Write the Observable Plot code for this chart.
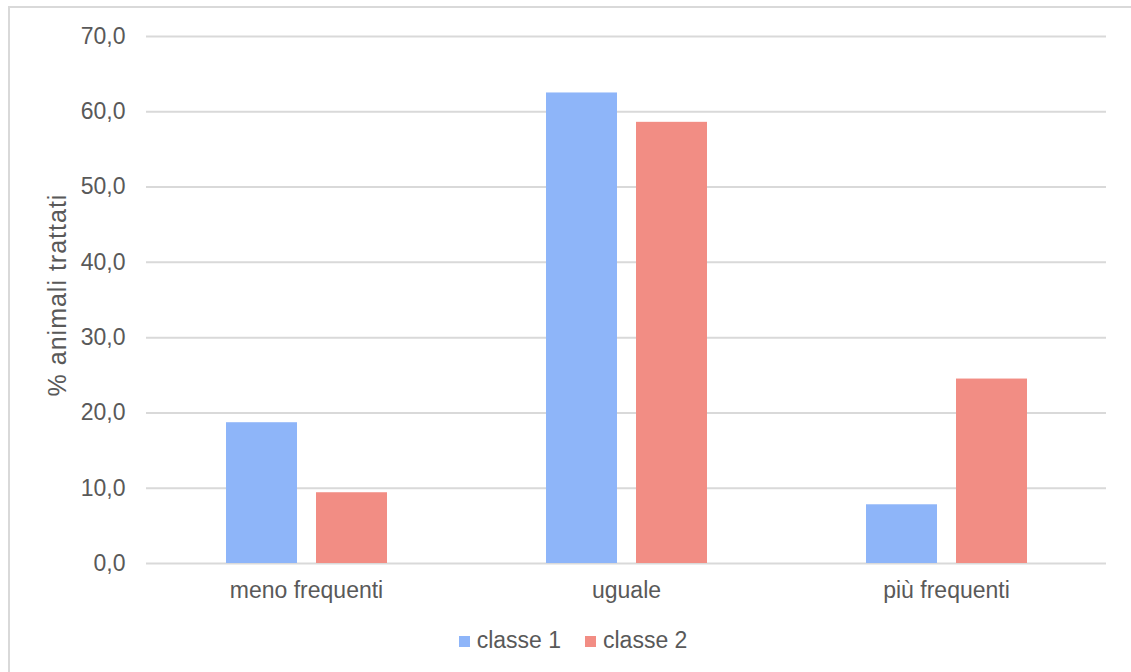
<!DOCTYPE html>
<html>
<head>
<meta charset="utf-8">
<script src="https://cdn.jsdelivr.net/npm/d3@7"></script>
<script src="https://cdn.jsdelivr.net/npm/@observablehq/plot@0.6"></script>
<style>
  html, body { margin: 0; padding: 0; background: #fff; }
  #wrap { position: relative; width: 1131px; height: 672px; overflow: hidden; font-family: "Liberation Sans", Arial, Helvetica, sans-serif; }
  #frame { position: absolute; left: 8px; top: 6px; width: 1300px; height: 800px; border-top: 2px solid #d9d9d9; border-left: 2px solid #d9d9d9; }
  #chart { position: absolute; left: 0; top: 0; }
  #ylabel { position: absolute; left: -93px; top: 282px; width: 300px; height: 26px; line-height: 26px; text-align: center; transform: rotate(-90deg); transform-origin: 50% 50%; font-size: 25px; letter-spacing: 1px; color: #595959; white-space: nowrap; }
  #legend { position: absolute; left: 0; width: 1131px; top: 627px; display: flex; justify-content: center; align-items: center; color: #595959; font-size: 23px; padding-left: 15px; box-sizing: border-box; }
  .item { display: flex; align-items: center; margin: 0 12px; }
  .sw { width: 11px; height: 11px; margin-right: 7px; margin-top: 2px; }
</style>
</head>
<body>
<div id="wrap">
  <div id="frame"></div>
  <div id="chart"></div>
  <div id="ylabel"></div>
  <div id="legend"></div>
</div>
<script>
const categories = ["meno frequenti", "uguale", "più frequenti"];
const series = ["classe 1", "classe 2"];
const classe1 = [18.7, 62.5, 7.8];
const classe2 = [9.4, 58.6, 24.5];
const colors = ["#8EB5F9", "#F28D84"];
const yTicks = [0, 10, 20, 30, 40, 50, 60, 70];
const yLabel = "% animali trattati";

const data = [];
categories.forEach((c, i) => {
  data.push({cat: c, cls: series[0], value: classe1[i]});
  data.push({cat: c, cls: series[1], value: classe2[i]});
});

const fmt = d => d.toFixed(1).replace(".", ",");
const textColor = "#595959";

const plot = Plot.plot({
  width: 1131,
  height: 620,
  marginTop: 36,
  marginBottom: 57,
  marginLeft: 146,
  marginRight: 25,
  style: {fontFamily: '"Liberation Sans", Arial, Helvetica, sans-serif', fontSize: "23px", color: textColor, background: "transparent", overflow: "visible"},
  fx: {domain: categories, padding: 0, label: null},
  x: {domain: series, paddingInner: 0.215, paddingOuter: 0.866, axis: null},
  y: {domain: [0, 70]},
  color: {domain: series, range: colors},
  marks: [
    Plot.ruleY(yTicks, {stroke: "#d9d9d9", strokeWidth: 2}),
    Plot.barY(data, {fx: "cat", x: "cls", y: "value", fill: "cls", inset: 0}),
    Plot.axisFx({anchor: "bottom", tickSize: 0, tickPadding: 18, fontSize: 23, fill: textColor, label: null}),
    Plot.axisY({ticks: yTicks, tickFormat: fmt, tickSize: 0, tickPadding: 21, fontSize: 23, fill: textColor, label: null})
  ]
});
document.getElementById("chart").appendChild(plot);
document.getElementById("ylabel").textContent = yLabel;

const legend = document.getElementById("legend");
series.forEach((s, i) => {
  const item = document.createElement("div");
  item.className = "item";
  const sw = document.createElement("span");
  sw.className = "sw";
  sw.style.background = colors[i];
  const t = document.createElement("span");
  t.textContent = s;
  item.appendChild(sw);
  item.appendChild(t);
  legend.appendChild(item);
});
</script>
</body>
</html>
